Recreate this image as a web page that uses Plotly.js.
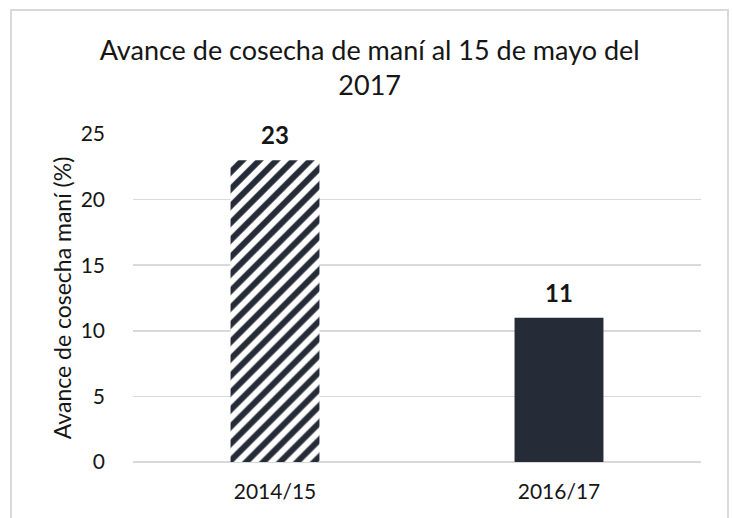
<!DOCTYPE html>
<html>
<head>
<meta charset="utf-8">
<script src="https://cdn.plot.ly/plotly-3.0.1.min.js"></script>
<style>
  html, body { margin: 0; padding: 0; background: #ffffff; }
  #wrap { position: relative; width: 732px; height: 518px; overflow: hidden; }
  #frame { position: absolute; left: 10px; top: 9px; width: 719px; height: 530px; border: 2px solid #d9d9d9; box-sizing: border-box; }
  #chart { position: absolute; left: 0; top: 0; width: 732px; height: 518px; }
</style>
</head>
<body>
<div id="wrap">
  <div id="frame"></div>
  <div id="chart"></div>
</div>
<script>
const categories = ["2014/15", "2016/17"];
const values = [23, 11];
const yTicks = [0, 5, 10, 15, 20, 25];
const titleText = "Avance de cosecha de maní al 15 de mayo del<br>2017";
const yTitleText = "Avance de cosecha maní (%)";

const FONT = "Lato, 'Open Sans', sans-serif";
const TXT = "#161616";
const DARK = "#252b37";

const hatched = {
  type: "bar",
  x: [categories[0]],
  y: [values[0]],
  marker: {
    color: "#ffffff",
    pattern: { shape: "/", fgcolor: DARK, bgcolor: "#ffffff", size: 12, solidity: 0.5 },
    line: { width: 0 }
  },
  hoverinfo: "skip"
};
const solid = {
  type: "bar",
  x: [categories[1]],
  y: [values[1]],
  marker: { color: DARK, line: { width: 0 } },
  hoverinfo: "skip"
};

const labels = categories.map((c, i) => ({
  x: c,
  y: values[i],
  xref: "x",
  yref: "y",
  text: "<b>" + values[i] + "</b>",
  showarrow: false,
  yanchor: "bottom",
  yshift: 9,
  font: { family: FONT, size: 24, color: TXT }
}));

const layout = {
  width: 732,
  height: 518,
  margin: { l: 133, r: 31, t: 134, b: 56 },
  paper_bgcolor: "rgba(0,0,0,0)",
  plot_bgcolor: "rgba(0,0,0,0)",
  showlegend: false,
  barmode: "overlay",
  bargap: 0.687,
  font: { family: FONT, color: TXT },
  annotations: labels,
  title: {
    text: titleText,
    font: { family: FONT, size: 27, color: TXT },
    x: 0.505,
    xanchor: "center",
    y: 0.885,
    yanchor: "top"
  },
  xaxis: {
    type: "category",
    categoryarray: categories,
    showgrid: false,
    showline: false,
    zeroline: false,
    ticks: "",
    tickfont: { family: FONT, size: 21, color: TXT },
    ticklabelstandoff: 15
  },
  yaxis: {
    range: [0, 25],
    tickvals: yTicks,
    ticktext: yTicks.map(String),
    showgrid: true,
    gridcolor: "#d9d9d9",
    gridwidth: 1.5,
    zeroline: true,
    zerolinecolor: "#d9d9d9",
    zerolinewidth: 1.5,
    showline: false,
    ticks: "",
    tickfont: { family: FONT, size: 21, color: TXT },
    ticklabelstandoff: 27,
    title: {
      text: yTitleText,
      font: { family: FONT, size: 23, color: TXT },
      standoff: 2
    }
  }
};

Plotly.newPlot("chart", [hatched, solid], layout, { displayModeBar: false, staticPlot: true });
</script>
</body>
</html>
